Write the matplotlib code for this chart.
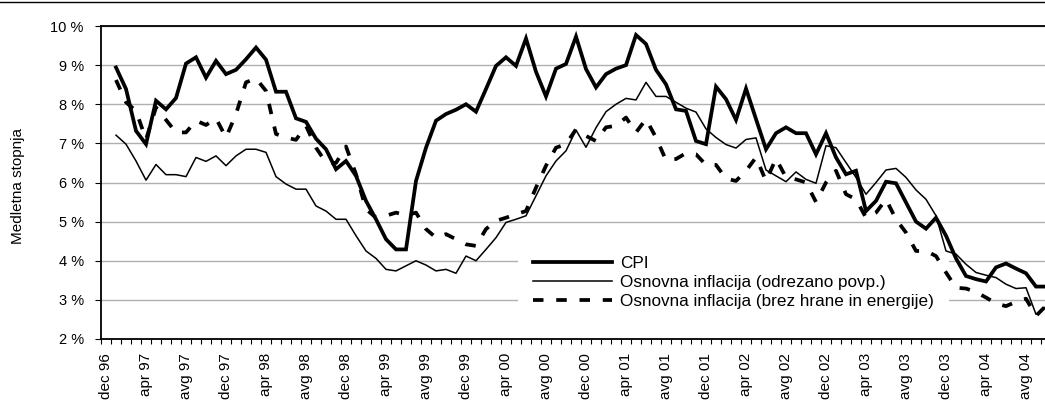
import numpy as np
import matplotlib
matplotlib.use('Agg')
import matplotlib.pyplot as plt
from matplotlib.lines import Line2D

plt.rcParams['font.family'] = ['Liberation Sans', 'DejaVu Sans']

# monthly data, first value = jan 97 (category 1), category 0 = dec 96
cpi = [8.94, 8.39, 7.32, 6.98, 8.09, 7.87, 8.16, 9.04, 9.20, 8.68, 9.11, 8.77, 8.88, 9.15, 9.45, 9.14,
	8.32, 8.32, 7.64, 7.55, 7.12, 6.85, 6.34, 6.55, 6.17, 5.53, 5.06, 4.55, 4.29, 4.29, 6.04, 6.89,
	7.58, 7.75, 7.86, 8.00, 7.81, 8.39, 8.98, 9.20, 8.98, 9.68, 8.83, 8.20, 8.91, 9.03, 9.73, 8.90,
	8.43, 8.77, 8.91, 9.00, 9.77, 9.54, 8.88, 8.51, 7.87, 7.83, 7.06, 6.98, 8.45, 8.13, 7.60, 8.40,
	7.62, 6.85, 7.26, 7.41, 7.26, 7.26, 6.72, 7.26, 6.64, 6.21, 6.30, 5.27, 5.53, 6.02, 5.98, 5.49,
	5.00, 4.82, 5.10, 4.64, 4.06, 3.61, 3.53, 3.47, 3.83, 3.93, 3.80, 3.68, 3.34, 3.34]

trimmed = [7.21, 6.98, 6.55, 6.06, 6.46, 6.20, 6.20, 6.15, 6.64, 6.54, 6.68, 6.43, 6.68, 6.85, 6.85, 6.77,
	6.15, 5.96, 5.83, 5.83, 5.40, 5.27, 5.06, 5.06, 4.64, 4.25, 4.06, 3.78, 3.74, 3.87, 4.00, 3.89,
	3.74, 3.78, 3.68, 4.12, 4.00, 4.29, 4.59, 4.98, 5.06, 5.15, 5.66, 6.17, 6.55, 6.81, 7.34, 6.90,
	7.40, 7.81, 8.00, 8.15, 8.11, 8.56, 8.20, 8.20, 8.05, 7.90, 7.80, 7.37, 7.15, 6.97, 6.88, 7.10,
	7.14, 6.32, 6.17, 6.02, 6.27, 6.08, 5.98, 6.94, 6.89, 6.51, 6.13, 5.70, 6.00, 6.32, 6.36, 6.13,
	5.81, 5.57, 5.15, 4.25, 4.17, 3.91, 3.70, 3.63, 3.57, 3.40, 3.29, 3.31, 2.63, 2.83]

core = [8.62, 8.05, 7.83, 7.10, 7.92, 7.60, 7.28, 7.28, 7.58, 7.47, 7.64, 7.15, 7.75, 8.56, 8.66, 8.34,
	7.24, 7.15, 7.09, 7.45, 6.89, 6.51, 6.50, 6.92, 6.21, 5.32, 5.10, 5.15, 5.23, 5.16, 5.23, 4.81,
	4.59, 4.68, 4.55, 4.42, 4.38, 4.81, 5.02, 5.10, 5.19, 5.27, 5.87, 6.43, 6.89, 6.98, 7.36, 7.19,
	7.06, 7.41, 7.45, 7.66, 7.28, 7.62, 7.15, 6.57, 6.60, 6.75, 6.72, 6.45, 6.45, 6.10, 6.04, 6.30,
	6.64, 6.04, 6.61, 6.13, 6.08, 6.00, 5.50, 6.00, 6.30, 5.70, 5.57, 5.10, 5.23, 5.57, 5.06, 4.72,
	4.25, 4.25, 4.12, 3.70, 3.31, 3.29, 3.20, 3.06, 2.91, 2.84, 2.95, 3.03, 2.59, 2.85]

tick_labels = ['dec 96', 'apr 97', 'avg 97', 'dec 97', 'apr 98', 'avg 98', 'dec 98', 'apr 99',
	'avg 99', 'dec 99', 'apr 00', 'avg 00', 'dec 00', 'apr 01', 'avg 01', 'dec 01',
	'apr 02', 'avg 02', 'dec 02', 'apr 03', 'avg 03', 'dec 03', 'apr 04', 'avg 04']

W, H = 1045, 403
fig = plt.figure(figsize=(W / 100, H / 100), dpi=100)
# plot area runs past the right edge of the picture (cropped chart)
ax = fig.add_axes([101 / W, (H - 339) / H, 960 / W, 313 / H])

x = np.arange(1, len(cpi) + 1)
ax.plot(x, cpi, color='black', lw=2.7, solid_joinstyle='miter', label='CPI', zorder=4)
ax.plot(x, trimmed, color='black', lw=1.1, label='Osnovna inflacija (odrezano povp.)', zorder=3)
ln, = ax.plot(x, core, color='black', lw=2.7, label='Osnovna inflacija (brez hrane in energije)', zorder=3)
ln.set_dashes((2.8, 3.4))
ln.set_dash_capstyle('butt')

ax.set_xlim(-0.5, 95.5)
ax.set_ylim(2, 10)
ax.set_yticks(np.arange(2, 10.5, 1))
ax.set_yticklabels(['%d %%' % v for v in range(2, 11)], fontsize=10.5)
ax.yaxis.grid(True, color='#b0b0b0', lw=1)
ax.set_axisbelow(True)

ax.set_xticks(np.arange(0, 4 * len(tick_labels), 4))
ax.set_xticklabels(tick_labels, rotation=90, fontsize=11)
ax.set_xticks(np.arange(-0.5, 96, 1), minor=True)
ax.tick_params(axis='x', which='major', length=0, pad=10)
ax.tick_params(axis='x', which='minor', length=3.5, width=0.8, direction='out')
ax.tick_params(axis='y', length=4.5, width=0.8, pad=8)

for s in ['left', 'bottom', 'top']:
	ax.spines[s].set_linewidth(1.3)
	ax.spines[s].set_color('black')
ax.spines['right'].set_visible(False)

fig.text(18 / W, (H - 186) / H, 'Medletna stopnja', rotation=90, ha='center', va='center', fontsize=11)
fig.add_artist(Line2D([0, 1], [(H - 2) / H, (H - 2) / H], color='black', lw=1.0, transform=fig.transFigure))

leg = ax.legend(loc='upper left', bbox_to_anchor=(0.434, 0.313), borderaxespad=0, frameon=True,
	fancybox=False, edgecolor='white', framealpha=1, fontsize=12.3, handlelength=4.6,
	handletextpad=0.48, labelspacing=0.22, borderpad=0.9)
leg.get_frame().set_linewidth(0)
leg.set_zorder(2.6)  # white box hides gridlines, data lines stay on top

fig.savefig('out.png', dpi=100)
